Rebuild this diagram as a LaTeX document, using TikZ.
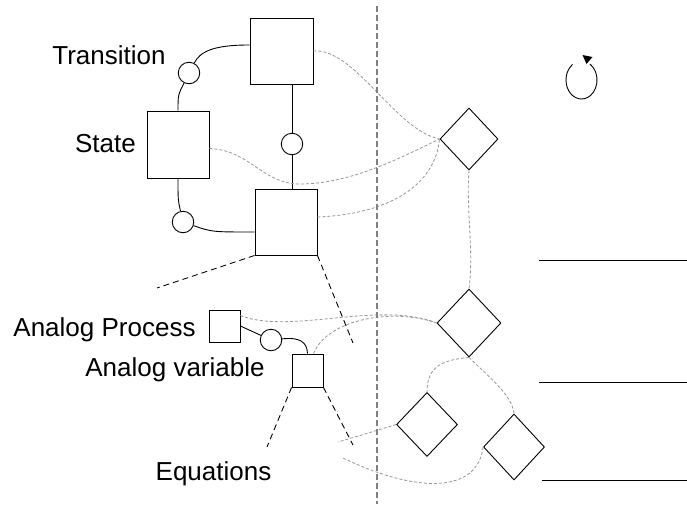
\documentclass[tikz,border=0pt]{standalone}
\usepackage{fontspec}
\setmainfont{Liberation Sans}
\usetikzlibrary{shapes.geometric,arrows.meta,calc}
\definecolor{tracegray}{RGB}{150,150,150}
\definecolor{dividergray}{RGB}{128,128,128}

\begin{document}
\begin{tikzpicture}[x=1pt,y=-1pt,
  box/.style={draw,line width=0.9pt,inner sep=0pt},
  joint/.style={draw,circle,line width=0.9pt,inner sep=0pt,minimum size=21.5pt},
  gate/.style={draw,diamond,line width=0.9pt,inner sep=0pt},
  link/.style={line width=0.9pt},
  trace/.style={tracegray,line width=0.8pt,dash pattern=on 3pt off 2pt},
  guide/.style={line width=0.9pt,dash pattern=on 6pt off 4pt},
  divider/.style={dividergray,line width=2pt,dash pattern=on 6pt off 3pt},
  txt/.style={font=\fontsize{26}{30}\selectfont,inner sep=0pt,anchor=base}
]
\useasboundingbox (0,0) rectangle (687,504);

% state machine part
\node[box,minimum width=63pt,minimum height=66pt] (T) at (281.5,51) {};
\node[box,minimum width=62pt,minimum height=67pt] (S) at (178,144.5) {};
\node[box,minimum width=62pt,minimum height=66pt] (B) at (286,222) {};
\node[joint] (C1) at (189,73) {};
\node[joint] (C2) at (292,144) {};
\node[joint] (C3) at (183,222) {};

% analog part
\node[box,minimum width=31pt,minimum height=32pt] (AP) at (224.5,326) {};
\node[box,minimum width=31pt,minimum height=33pt] (AV) at (307.5,370.5) {};
\node[joint] (C4) at (271,340) {};

% decision nodes
\node[gate,minimum width=58pt,minimum height=62pt] (D1) at (469,139) {};
\node[gate,minimum width=64pt,minimum height=68pt] (D2) at (469,323) {};
\node[gate,minimum width=61pt,minimum height=64pt] (D3) at (427,424.5) {};
\node[gate,minimum width=61pt,minimum height=66pt] (D4) at (514,447) {};

% labels
\node[txt] (lT) at (109,64) {Transition};
\node[txt] (lS) at (105.5,152) {State};
\node[txt] (lAP) at (104.5,336) {Analog Process};
\node[txt] (lAV) at (175,376) {Analog variable};
\node[txt] (lEq) at (213.5,480) {Equations};

% solid links
\draw[link] ($(T.north west)!0.41!(T.south west)$) .. controls (212,45) and (200,52) .. (C1);
\draw[link] (S.north) .. controls (178,95) .. (C1);
\draw[link] (C2) -- (C2 |- T.south);
\draw[link] (C2) -- (C2 |- B.north);
\draw[link] (S.south) .. controls (178,200) .. (C3);
\draw[link] (C3) .. controls (212,232) .. ($(B.west)+(0,10)$);
\draw[link] (AP.east) -- (C4);
\draw[link] (C4) .. controls (300,337) and (307,342) .. (AV.north);

% zoom guides
\coordinate (g1) at (157,288);
\coordinate (g2) at (353,343);
\coordinate (g3) at (267,447);
\coordinate (g4) at (353,445);
\draw[guide] (B.south west) -- (g1);
\draw[guide] (B.south east) -- (g2);
\draw[guide] (AV.south west) -- (g3);
\draw[guide] (AV.south east) -- (g4);

% mapping traces
\draw[trace] (T.east) .. controls (355,48) and (395,130) .. (D1.west);
\draw[trace] ($(S.east)+(0,4)$) .. controls (250,150) and (262,184) .. (300,184)
  .. controls (350,184) and (400,158) .. (D1.west);
\draw[trace] ($(B.east)+(0,-5)$) .. controls (390,214) and (435,185) .. (D1.west);
\draw[trace] (D1.south) .. controls (466,210) and (474,250) .. (D2.north);
\draw[trace] ($(AP.north east)+(0,6)$) .. controls (290,335) and (380,300) .. (D2.west);
\draw[trace] ($(AV.north)+(6,0)$) .. controls (328,318) and (395,308) .. (D2.west);
\draw[trace] (D2.south) .. controls (440,360) and (427,368) .. (D3.north);
\draw[trace] (D2.south) .. controls (490,378) and (512,395) .. (D4.north);
\coordinate (e1) at (338,442);
\coordinate (e2) at (343,458);
\draw[trace] (D3.west) .. controls (375,431) .. (e1);
\draw[trace] (D4.west) .. controls (478,492) and (420,495) .. (e2);

% divider
\coordinate (dtop) at (377,6);
\coordinate (dbot) at (377,504);
\draw[divider] (dtop) -- (dbot);

% level lines
\coordinate (h1a) at (539,260); \coordinate (h1b) at (687,260);
\coordinate (h2a) at (539,382); \coordinate (h2b) at (687,382);
\coordinate (h3a) at (542,480); \coordinate (h3b) at (687,480);
\draw[link] (h1a) -- (h1b);
\draw[link] (h2a) -- (h2b);
\draw[link] (h3a) -- (h3b);

% loop arrow: open ellipse with a filled head at its top
\coordinate (spin) at (581.5,80);
\coordinate (spintip) at (582.5,55);
\coordinate (spinbase1) at (592.5,57);
\coordinate (spinbase2) at (586.5,64);
\draw[link] ([shift={(235:15.5 and 19)}]spin) arc[start angle=235,end angle=-57,x radius=15.5,y radius=19];
\fill (spintip) -- (spinbase1) -- (spinbase2) -- cycle;
\end{tikzpicture}
\end{document}
